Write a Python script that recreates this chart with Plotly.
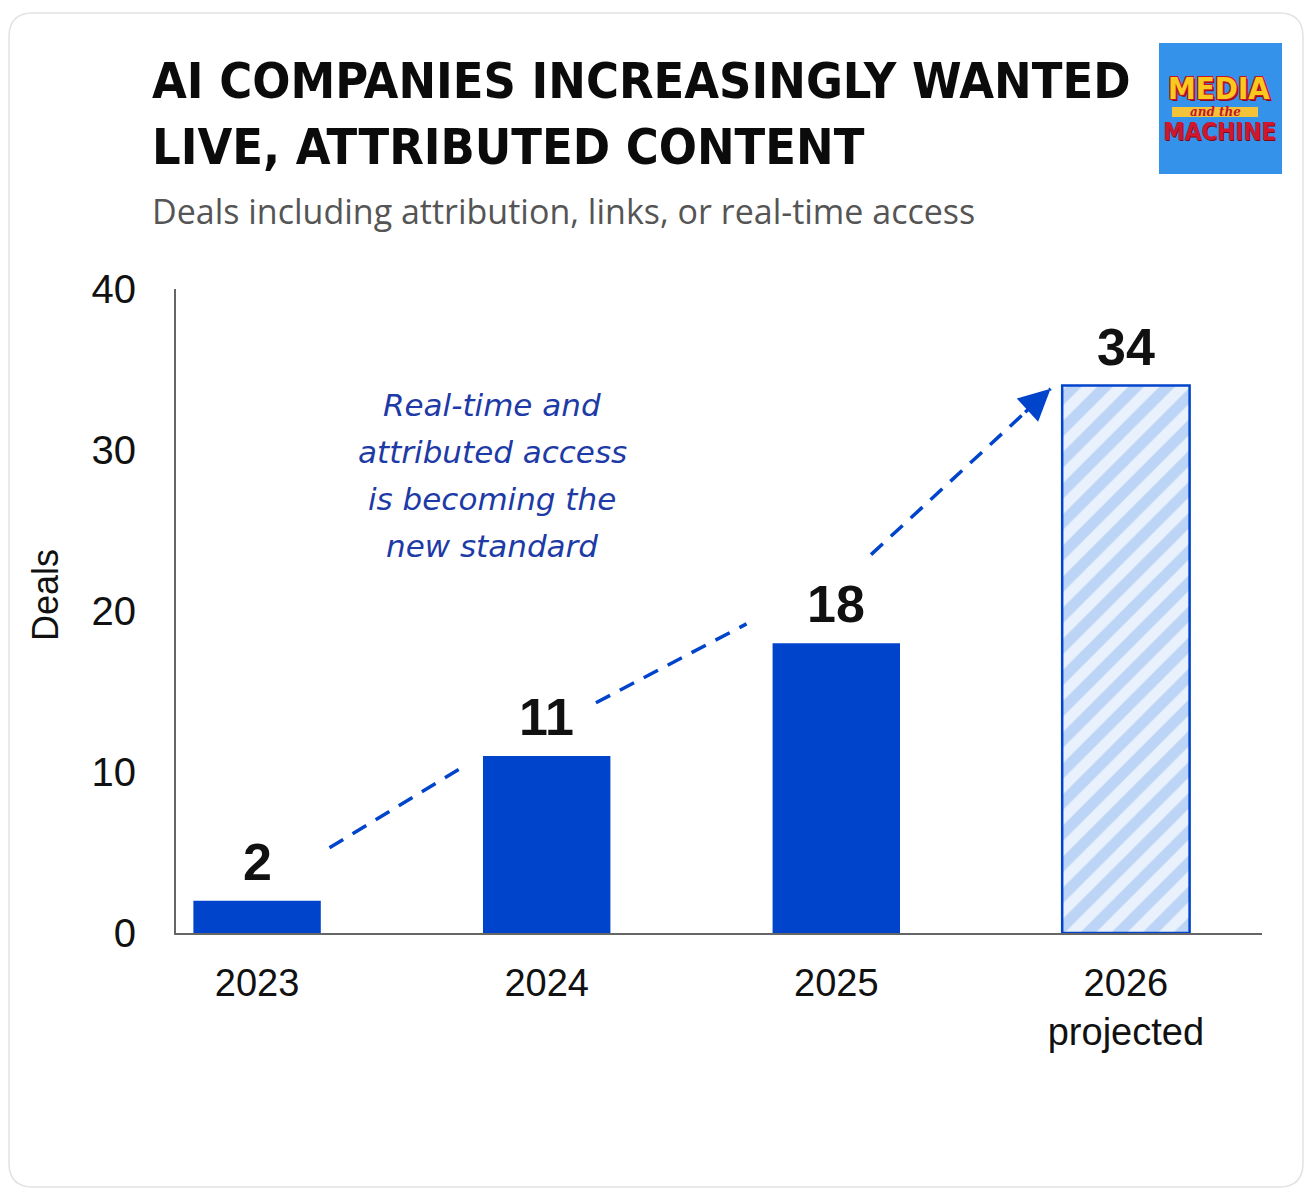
import plotly.graph_objects as go

# data
years = ['2023', '2024', '2025', '2026']
tick_text = ['2023', '2024', '2025', '2026<br>projected']
deals = [2, 11, 18, 34]
projected = [False, False, False, True]

title_lines = ['AI COMPANIES INCREASINGLY WANTED', 'LIVE, ATTRIBUTED CONTENT']
subtitle = 'Deals including attribution, links, or real-time access'
note_lines = ['Real-time and', 'attributed access', 'is becoming the', 'new standard']

BLUE = '#0044cc'
W, H = 1297, 1182
L, T, R, B = 168, 281, 43, 257
PW, PH = W - L - R, H - T - B
COND = 'Liberation Sans Narrow, DejaVu Sans Condensed, Liberation Sans'


def px(x):
    return (x - L) / PW


def py(y):
    return 1 - (y - T) / PH


fig = go.Figure()

xs = list(range(len(years)))
actual_x = [i for i in xs if not projected[i]]
proj_x = [i for i in xs if projected[i]]

fig.add_trace(go.Bar(
    x=actual_x, y=[deals[i] for i in actual_x], width=0.44,
    marker=dict(color=BLUE, line=dict(width=0)),
    hoverinfo='x+y', showlegend=False,
))
fig.add_trace(go.Bar(
    x=proj_x, y=[deals[i] for i in proj_x], width=0.44,
    marker=dict(color='#e8f1fc', line=dict(color=BLUE, width=2.5),
                pattern=dict(shape='/', fgcolor='#bcd4f5', bgcolor='#e8f1fc',
                             fillmode='replace', size=22, solidity=0.5)),
    hoverinfo='x+y', showlegend=False,
))

# dashed trend arrows between bar tops
start_dx, start_dy = [0.25, 0.17, 0.12], [3.3, 3.3, 5.5]
end_dx, end_dy = [0.3, 0.31, 0.26], [-0.8, 1.2, -0.2]
sx, sy = [], []
for i in range(len(deals) - 1):
    sx += [i + start_dx[i], i + 1 - end_dx[i], None]
    sy += [deals[i] + start_dy[i], deals[i + 1] + end_dy[i], None]
fig.add_trace(go.Scatter(x=sx, y=sy, mode='lines',
                         line=dict(color=BLUE, width=3.5, dash='16px,11px'),
                         hoverinfo='skip', showlegend=False))
# arrow head on the last segment, tail lying on the segment
hx, hy = sx[-2], sy[-2]
tx, ty = sx[-3] + 0.85 * (hx - sx[-3]), sy[-3] + 0.85 * (hy - sy[-3])
fig.add_annotation(x=hx, y=hy, ax=tx, ay=ty,
                   xref='x', yref='y', axref='x', ayref='y', text='',
                   showarrow=True, arrowhead=2, arrowsize=1.8, arrowwidth=3.5,
                   arrowcolor=BLUE)

# value labels
for i, v in enumerate(deals):
    fig.add_annotation(x=i, y=v, xref='x', yref='y', text=str(v),
                       showarrow=False, yanchor='bottom', yshift=8,
                       font=dict(family='Liberation Sans, Arial', size=52,
                                 color='#111111', weight='bold'))

# card border (rounded)
x0, y0, x1, y1, r = px(1), py(5), px(1295), py(1179), 24
rx, ry = r / PW, r / PH
path = (f'M {x0 + rx} {y0} L {x1 - rx} {y0} Q {x1} {y0} {x1} {y0 - ry} '
        f'L {x1} {y1 + ry} Q {x1} {y1} {x1 - rx} {y1} L {x0 + rx} {y1} '
        f'Q {x0} {y1} {x0} {y1 + ry} L {x0} {y0 - ry} Q {x0} {y0} {x0 + rx} {y0} Z')
fig.add_shape(type='path', path=path, xref='paper', yref='paper',
              line=dict(color='#e2e2e2', width=1.5), layer='below')

# logo
fig.add_shape(type='rect', xref='paper', yref='paper',
              x0=px(1151), x1=px(1274), y0=py(35), y1=py(166),
              fillcolor='#3592ea', line=dict(width=0))
fig.add_shape(type='rect', xref='paper', yref='paper',
              x0=px(1164), x1=px(1250), y0=py(99), y1=py(109),
              fillcolor='#f3c43a', line=dict(width=0))
fig.add_annotation(x=px(1211), y=py(80), xref='paper', yref='paper', text='MEDIA',
                   showarrow=False, xanchor='center', yanchor='middle',
                   font=dict(family=COND, size=31, color='#f9c91e', weight='bold',
                             shadow='1px 1px 0 #c4162a, -1px -1px 0 #c4162a, '
                                    '1px -1px 0 #c4162a, -1px 1px 0 #c4162a, 2px 2px 0 #8a0d1c'))
fig.add_annotation(x=px(1207), y=py(104), xref='paper', yref='paper', text='<i>and the</i>',
                   showarrow=False, xanchor='center', yanchor='middle',
                   font=dict(family='DejaVu Serif', size=12, color='#c4162a', weight='bold'))
fig.add_annotation(x=px(1211), y=py(124), xref='paper', yref='paper', text='MACHINE',
                   showarrow=False, xanchor='center', yanchor='middle',
                   font=dict(family=COND, size=24, color='#d0172e', weight='bold',
                             shadow='1px 1px 0 #7a0a14'))

# titles
for k, line in enumerate(title_lines):
    fig.add_annotation(x=px(142), y=py(73 + 66 * k), xref='paper', yref='paper',
                       text=line, showarrow=False, xanchor='left', yanchor='middle',
                       font=dict(family=COND, size=50, color='#0b0b0b', weight='bold'))
fig.add_annotation(x=px(142), y=py(203), xref='paper', yref='paper', text=subtitle,
                   showarrow=False, xanchor='left', yanchor='middle',
                   font=dict(family='Open Sans', size=34, color='#555555'))

# handwritten note
for k, line in enumerate(note_lines):
    fig.add_annotation(x=px(484), y=py(397 + 47 * k), xref='paper', yref='paper',
                       text=line, showarrow=False, xanchor='center', yanchor='middle',
                       font=dict(family='DejaVu Sans', size=31, color='#1d3aa6',
                                 style='italic'))

# y title
fig.add_annotation(x=px(37), y=py(587), xref='paper', yref='paper', text='Deals',
                   showarrow=False, textangle=-90, xanchor='center', yanchor='middle',
                   font=dict(family='Liberation Sans, Arial', size=36, color='#111111'))

fig.update_layout(
    width=W, height=H,
    margin=dict(l=L, r=R, t=T, b=B),
    paper_bgcolor='white',
    plot_bgcolor='white',
    barmode='overlay',
    font=dict(family='Liberation Sans, Arial', color='#111111'),
    xaxis=dict(range=[-0.28, 3.47], tickvals=xs,
               ticktext=tick_text, showgrid=False, zeroline=False,
               showline=True, linecolor='#666666', linewidth=2, ticks='',
               ticklabelstandoff=15, tickfont=dict(size=38)),
    yaxis=dict(range=[0, 40], tickvals=[0, 10, 20, 30, 40], showgrid=False,
               zeroline=False, showline=True, linecolor='#666666', linewidth=2,
               ticks='', ticklabelstandoff=30, tickfont=dict(size=40)),
)

fig.write_html('out.html')
